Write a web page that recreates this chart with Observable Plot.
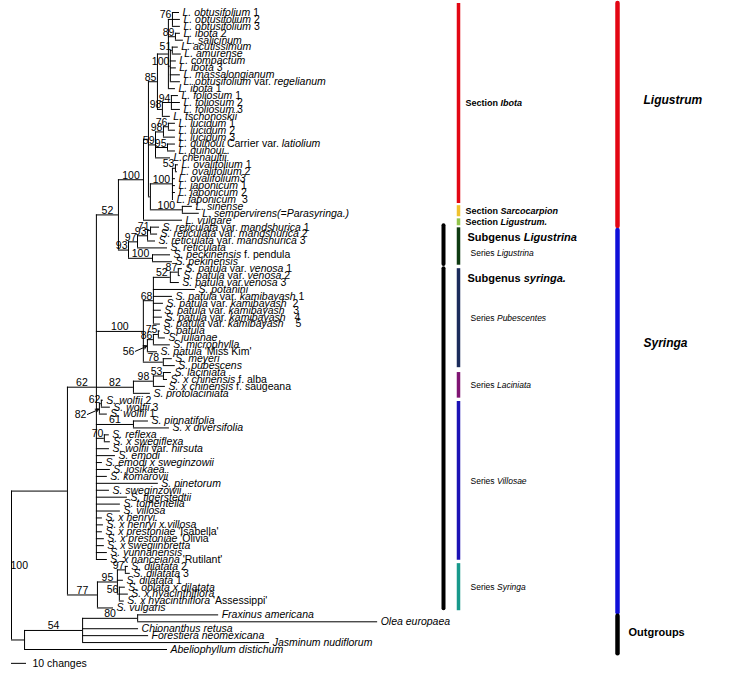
<!DOCTYPE html>
<html><head><meta charset="utf-8">
<script src="https://cdn.jsdelivr.net/npm/d3@7"></script>
<script src="https://cdn.jsdelivr.net/npm/@observablehq/plot@0.6"></script>
<style>body{margin:0;background:#fff} svg{display:block}</style>
</head><body><div id="chart"></div>
<script>
// ---- DATA ----
const tipNames = [
"L. obtusifolium 1","L. obtusifolium 2","L. obtusifolium 3","L. ibota 2","L. salicinum","L. acutissimum","L. amurense","L. compactum","L. ibota 3","L. massalongianum","L. obtusifolium var. regelianum","L. ibota 1","L. foliosum 1","L. foliosum 2","L. foliosum 3","L. tschonoskii","L. lucidum 1","L. lucidum 2","L. lucidum 3","L. quihoui Carrier var. latiolium","L. quihoui..","L.chenaultii","L. ovalifolium 1","L. ovalifolium 2","L. ovalifolium3","L. japonicum 1","L. japonicum 2","L. japonicum  3","L. sinense","L. sempervirens(=Parasyringa.)","L. vulgare",
"S. reticulata var. mandshurica 1","S. reticulata var. mandshurica 2","S. reticulata var. mandshurica 3","S. reticulata","S. peckinensis f. pendula","S. pekinensis","S. patula var. venosa 1","S. patula var. venosa 2","S. patula var.venosa 3","S. potanini","S. patula var. kamibayash 1","S. patula var. kamibayash  2","S. patula var. kamibayash   3","S. patula var. kamibayash   4","S. patula var. kamibayash    5","S. patula","S. julianae","S. microphylla","S. patula 'Miss Kim'","S. meyeri","S. pubescens","S. laciniata","S. x chinensis f. alba","S. x chinensis f. saugeana","S. protolaciniata","S. wolfii 2","S. wolfii 3","S. wolfii 1","S. pinnatifolia","S. x diversifolia","S. reflexa","S. x swegiflexa","S. wolfii var. hirsuta","S. emodi","S. emodi x sweginzowii","S. josikaea","S. komarovii","S. pinetorum","S. sweginzowii","S. tigerstedtii","S. tomentella","S. villosa","S. x henryi.","S. x henryi x.villosa","S. x prestoniae 'Isabella'","S. x prestoniae 'Olivia'","S. x swegiinbretta","S. yunnanensis","S. x nanceiana 'Rutilant'","S. dilatata 2","S. dilatata 3","S. dilatata 1","S. oblata x dilatata","S. x hyacinthiflora","S. x hyacinthiflora 'Assessippi'","S. vulgaris",
"Fraxinus americana","Olea europaea","Chionanthus retusa","Forestiera neomexicana","Jasminum nudiflorum","Abeliophyllum distichum"];

// topology: tips are indices into tipNames, internal labels are bootstrap values, lengths in changes
const ligustrum = "(((((0:4.7,1:5.3,2:5.3)76:2.7,(3:3.3,4:5.3)89:4.7,((5:4,6:6)51:1.3,7:4,8:4,9:6.7,10:6.7)100:1.3,11:4.7):7.3,((12:4.7,13:6,14:6)94:6,15:5.3)98:3.3)85:6,(((16:4.7,17:4.7)76:3.3,18:8)98:5.3,(19:5.3,20:5.3)95:8,21:10)59:4.7,(((22:2,23:1.3)53:2,24:2,25:2,26:2,27:0.7)100:14.7,(28:6.7,29:11.3)100:21.3):1.3):3.3,30:26)100:16.7";
const ligustrina = "((((31:6,32:4.7)71:2,33:5.3)93:6.7,34:20)97:6,(35:12,36:13.3)100:16)93:6.7";
const pubescentes = "((((37:2.7,38:1.3)87:5.3,39:6)52:11.3,40:28,41:12.7,42:6.7,43:5.3,44:6,45:4.7)68:6.7,(((46:1.3,47:4.7)75:3.3,48:11.3)86:4,49:6.7)56>:2.7,(50:6,51:8)78:13.3)100:31.3";
const laciniata = "(((52:5.3,53:2.7)53:6.7,54:8)98:13.3,55:11.3)82:24.7";
const villosae = "((56:1.3,57:6)62:1.3,58:5.3)82>:2,(59:10,60:24)61:24.7,(61:3.3,62:4)70:5.3,63:8.7,64:12.7,65:4,66:9.3,67:7.3,68:41.3,69:8.7,70:20.7,71:16,72:16,73:4,74:4.7,75:4,76:5.3,77:5.3,78:7.3,79:7.3";
const syringaSeries = "(((80:2,81:3.3)97:5.3,82:4,(83:4,84:6,85:3.3)56:1.3)95:13.3,86:10.7)77:20";
const outgroups = "(((87:54,88:160)80:36.7,89:37.3,90:44,91:124.7)54:38.7,92:95.3):8.7";
const newick = "(((" + "(" + ligustrum + "," + ligustrina + ")52:14.7," + pubescentes + "," + laciniata + "," + villosae + ")62:19.3," + syringaSeries + "):37.3," + outgroups + ")100;";

// annotation groups (leaf-row extents)
const groupNames  = ["Section _Ibota_","Section _Sarcocarpion_","Section _Ligustrum._","Series _Ligustrina_","Series _Pubescentes_","Series _Laciniata_","Series _Villosae_","Series _Syringa_"];
const groupColors = ["#e30613","#f0c22e","#93c54b","#0f3b12","#1b2b5b","#7f1472","#1c12b5","#18998b"];
const groupFirst  = [-1.3, 27.9, 29.8, 31.1, 37.0, 52.0, 56.2, 79.6];
const groupLast   = [27.6, 29.5, 30.8, 36.5, 51.3, 55.7, 79.1, 86.4];
const subgenusNames = ["Subgenus _Ligustrina_","Subgenus _syringa._"];
const subgenusGroup = [3, 4];
const blackFirst = [30.8, 37.0];
const blackLast  = [36.4, 86.1];
const genusNames  = ["_Ligustrum_","_Syringa_","Outgroups"];
const genusColors = ["#e30613","#1010d8","#000000"];
const genusFirst  = [-1.3, 31.5, 87.2];
const genusLast   = [30.9, 86.7, 92.6];
const genusLabelRow = [12.7, 47.8, 89.5];
const scaleBar = {changes: 10, label: "10 changes"};

// ---- PARSE & LAYOUT ----
function parseNewick(s) {
  let i = 0;
  function node() {
    const n = {children: [], label: "", length: 0};
    if (s[i] === "(") {
      i++;
      n.children.push(node());
      while (s[i] === ",") { i++; n.children.push(node()); }
      i++;
    }
    while (i < s.length && !",():;".includes(s[i])) n.label += s[i++];
    if (s[i] === ":") { i++; let num = ""; while (i < s.length && !",();".includes(s[i])) num += s[i++]; n.length = +num; }
    return n;
  }
  return node();
}
const root = parseNewick(newick);
const nodes = [];
(function walk(n, parent) {
  n.parent = parent;
  n.x = (parent ? parent.x : 0) + n.length;
  nodes.push(n);
  if (n.children.length) {
    n.children.forEach(c => walk(c, n));
    n.y = (n.children[0].y + n.children[n.children.length - 1].y) / 2;
  } else {
    n.y = +n.label;
    n.name = tipNames[n.y];
  }
})(root, null);

const W = 746, H = 680;
const xDomain = [0, 490], xRange = [11, W];
const k = (xRange[1] - xRange[0]) / (xDomain[1] - xDomain[0]); // px per change
const hEdges = nodes.filter(n => n.parent).map(n => ({x1: n.parent.x, x2: n.x, y: n.y}));
const vEdges = nodes.filter(n => n.children.length).map(n => ({x: n.x, y1: n.children[0].y, y2: n.children[n.children.length - 1].y}));
const tips = nodes.filter(n => !n.children.length);
const supports = nodes.filter(n => n.children.length && n.parent && n.label).map(n => {
  const arrow = n.label.endsWith(">");
  const text = n.label.replace(">", "");
  const long = n.length * k >= text.length * 5.9 + 3;
  return {text, x: n.x, xm: n.parent.x + n.length / 2, y: n.y, arrow, long};
});
const arrowSup = supports.filter(d => d.arrow);

const bar1X = 298, black1X = 288, bar2X = 404;
const groups = groupNames.map((name, i) => ({name, color: groupColors[i], y1: groupFirst[i], y2: groupLast[i],
  ly: subgenusGroup.includes(i) ? Math.max((groupFirst[i] + groupLast[i]) / 2, groupFirst[i] + 3.7) : (groupFirst[i] + groupLast[i]) / 2,
  section: name.startsWith("Section")}));
const subgenera = subgenusNames.map((name, i) => ({name, y: groupFirst[subgenusGroup[i]] + 1.4}));
const blacks = blackFirst.map((y1, i) => ({y1, y2: blackLast[i]}));
const genera = genusNames.map((name, i) => ({name, color: genusColors[i], y1: genusFirst[i], y2: genusLast[i], ly: genusLabelRow[i], out: name === "Outgroups"}));

const font = "'Liberation Sans', Arial, sans-serif";
const svg = Plot.plot({
  width: W, height: H,
  marginLeft: 11, marginRight: 0, marginTop: 12, marginBottom: 31,
  x: {domain: xDomain, range: xRange, axis: null},
  y: {domain: [0, 92], range: [12, 649], axis: null},
  style: {fontFamily: font, background: "#fff", overflow: "visible"},
  marks: [
    Plot.ruleY(hEdges, {y: "y", x1: "x1", x2: "x2", stroke: "#000", strokeWidth: 1}),
    Plot.ruleX(vEdges, {x: "x", y1: "y1", y2: "y2", stroke: "#000", strokeWidth: 1}),
    Plot.text(tips, {x: "x", y: "y", text: "name", textAnchor: "start", dx: 3, fontSize: 10.5, fontStyle: "italic", fill: "#000", ariaDescription: "tips"}),
    Plot.text(supports.filter(d => d.long && !d.arrow), {x: "xm", y: "y", text: "text", textAnchor: "middle", lineAnchor: "bottom", dy: -1, fontSize: 10.5, fill: "#000"}),
    Plot.text(supports.filter(d => !d.long && !d.arrow), {x: "x", y: "y", text: "text", textAnchor: "end", lineAnchor: "bottom", dx: -1, dy: -1, fontSize: 10.5, fill: "#000"}),
    Plot.arrow(arrowSup, {x1: d => d.x - 8, y1: d => d.y + 0.8, x2: d => d.x - 0.6, y2: d => d.y + 0.1, headLength: 5, strokeWidth: 1, stroke: "#000"}),
    Plot.text(arrowSup, {x: d => d.x - 8, y: d => d.y + 0.8, text: "text", textAnchor: "end", lineAnchor: "middle", dx: -1, fontSize: 10.5, fill: "#000"}),
    Plot.text([root], {x: "x", y: "y", text: "label", textAnchor: "start", lineAnchor: "middle", dx: -1, fontSize: 10.5, fill: "#000"}),
    // scale bar
    Plot.ruleY([94], {x1: 0, x2: scaleBar.changes, stroke: "#000", strokeWidth: 1}),
    Plot.text([scaleBar.label], {x: scaleBar.changes, y: 94, textAnchor: "start", lineAnchor: "middle", dx: 6, fontSize: 10.5, fill: "#000"}),
    // column 1 bars
    Plot.ruleX(blacks, {x: black1X, y1: "y1", y2: "y2", stroke: "#000", strokeWidth: 4, strokeLinecap: "round"}),
    Plot.ruleX(groups, {x: bar1X, y1: "y1", y2: "y2", stroke: "color", strokeWidth: 3.5}),
    Plot.text(groups.filter(d => d.section), {x: bar1X, y: "ly", text: "name", textAnchor: "start", dx: 7, lineAnchor: "middle", fontSize: 9, fontWeight: "bold", fill: "#000", ariaDescription: "notes"}),
    Plot.text(groups.filter(d => !d.section), {x: bar1X, y: "ly", text: "name", textAnchor: "start", dx: 12, lineAnchor: "middle", fontSize: 8.5, fill: "#000", ariaDescription: "notes"}),
    Plot.text(subgenera, {x: bar1X, y: "y", text: "name", textAnchor: "start", dx: 9, lineAnchor: "middle", fontSize: 11, fontWeight: "bold", fill: "#000", ariaDescription: "notes"}),
    // column 2 bars
    Plot.ruleX(genera, {x: bar2X, y1: "y1", y2: "y2", stroke: "color", strokeWidth: 4.5, strokeLinecap: "round"}),
    Plot.text(genera.filter(d => !d.out), {x: bar2X, y: "ly", text: "name", textAnchor: "start", dx: 26, lineAnchor: "middle", fontSize: 12, fontWeight: "bold", fill: "#000", ariaDescription: "notes"}),
    Plot.text(genera.filter(d => d.out), {x: bar2X, y: "ly", text: "name", textAnchor: "start", dx: 11, lineAnchor: "middle", fontSize: 11, fontWeight: "bold", fill: "#000", ariaDescription: "notes"})
  ]
});

// ---- mixed italic / upright text ----
const NS = "http://www.w3.org/2000/svg";
svg.querySelectorAll('g[aria-description="tips"] text').forEach(t => {
  const s = t.textContent; t.textContent = "";
  t.setAttribute("style", "white-space:pre");
  let prevF = false;
  s.split(" ").forEach((tok, i) => {
    const up = /^\d+$/.test(tok) || /^(var\.|f\.|Carrier)$/.test(tok) || tok.startsWith("'") || tok.endsWith("'") || prevF;
    if (tok) prevF = tok === "f.";
    const ts = document.createElementNS(NS, "tspan");
    ts.textContent = (i ? " " : "") + tok;
    if (up) ts.setAttribute("font-style", "normal");
    t.appendChild(ts);
  });
});
svg.querySelectorAll('g[aria-description="notes"] text').forEach(t => {
  const parts = t.textContent.split("_"); t.textContent = "";
  parts.forEach((p, i) => {
    if (!p) return;
    const ts = document.createElementNS(NS, "tspan");
    ts.textContent = p;
    if (i % 2) ts.setAttribute("font-style", "italic");
    t.appendChild(ts);
  });
});
document.getElementById("chart").appendChild(svg);
</script>
</body></html>
